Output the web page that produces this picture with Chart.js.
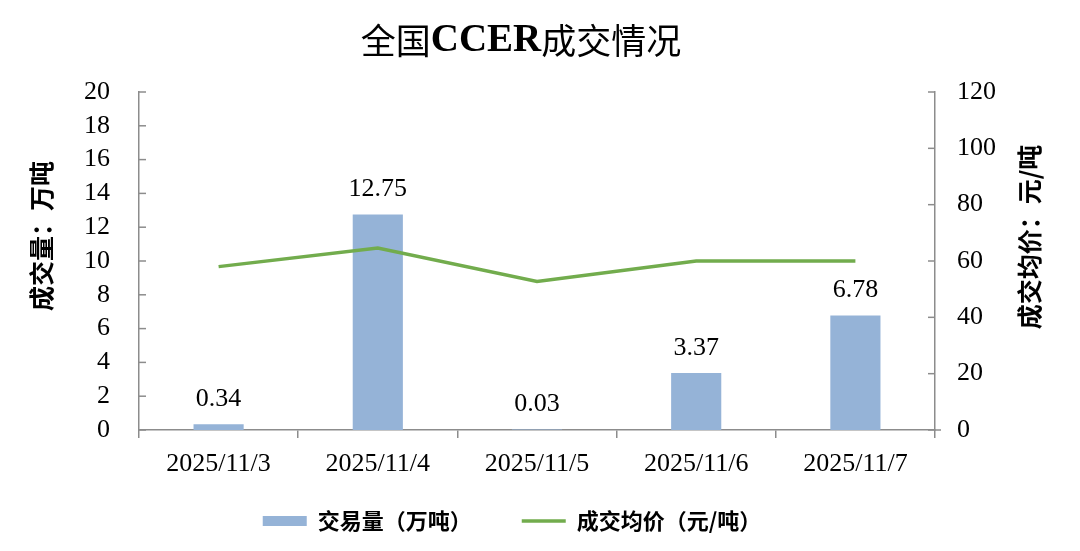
<!DOCTYPE html>
<html>
<head>
<meta charset="utf-8">
<script src="https://cdn.jsdelivr.net/npm/chart.js@4.4.1/dist/chart.umd.min.js"></script>
<style>
  html, body { margin: 0; padding: 0; background: #fff; }
  #wrap { width: 1080px; height: 551px; }
</style>
</head>
<body>
<div id="wrap"><canvas id="myChart"></canvas></div>
<script>
const dates = ['2025/11/3', '2025/11/4', '2025/11/5', '2025/11/6', '2025/11/7'];
const volume = [0.34, 12.75, 0.03, 3.37, 6.78];      // 万吨
const avgPrice = [58.0, 64.6, 52.7, 60.0, 60.0];     // 元/吨
const volTicks = [0, 20, 2];
const priceTicks = [0, 120, 20];

const serif = '"Liberation Serif", "Times New Roman", serif';
const cjk = '"Noto Sans CJK SC", "Noto Sans", sans-serif';
const axisGray = '#8c8c8c';

// title with mixed fonts, axis titles, inner tick marks, value labels
const decor = {
    id: 'decor',
    afterLayout(chart) {
        // legend sits a bit left of centre and close under the axis labels
        const lg = chart.legend;
        lg.left -= 28;
        lg.right -= 28;
        const h = lg.bottom - lg.top;
        lg.top = 460;
        lg.bottom = 460 + h;
    },
    afterDraw(chart) {
        const c = chart.ctx;
        const area = chart.chartArea;
        c.save();

        // title
        const runs = [
            ['全国', 'normal 35px ' + cjk],
            ['CCER', 'bold 39px ' + serif],
            ['成交情况', 'normal 35px ' + cjk]
        ];
        let total = 0;
        runs.forEach(r => { c.font = r[1]; total += c.measureText(r[0]).width; });
        let x = 521 - total / 2;
        c.fillStyle = '#000';
        c.textBaseline = 'middle';
        c.textAlign = 'left';
        runs.forEach(r => {
            c.font = r[1];
            c.fillText(r[0], x, 41);
            x += c.measureText(r[0]).width;
        });

        // axis titles
        c.font = 'bold 25px ' + cjk;
        c.textAlign = 'center';
        c.save();
        c.translate(41, 236);
        c.rotate(-Math.PI / 2);
        c.fillText('成交量：万吨', 0, 0);
        c.restore();
        c.save();
        c.translate(1029, 237);
        c.rotate(-Math.PI / 2);
        c.fillText('成交均价：元/吨', 0, 0);
        c.restore();

        // tick marks drawn inside the plot
        c.strokeStyle = axisGray;
        c.lineWidth = 1.5;
        const y = chart.scales.y, y1 = chart.scales.y1;
        y.ticks.forEach((t, i) => {
            const py = y.getPixelForTick(i);
            c.beginPath(); c.moveTo(area.left, py); c.lineTo(area.left + 7, py); c.stroke();
        });
        y1.ticks.forEach((t, i) => {
            const py = y1.getPixelForTick(i);
            c.beginPath(); c.moveTo(area.right - 7, py); c.lineTo(area.right + (i === 0 ? 6 : 0), py); c.stroke();
        });

        // bar value labels
        c.fillStyle = '#000';
        c.font = '26px ' + serif;
        c.textAlign = 'center';
        const meta = chart.getDatasetMeta(0);
        meta.data.forEach((bar, i) => {
            c.fillText(volume[i].toFixed(2), bar.x, bar.y - 25);
        });
        c.restore();
    }
};

new Chart(document.getElementById('myChart'), {
    type: 'bar',
    data: {
        labels: dates,
        datasets: [{
            label: '交易量（万吨）',
            data: volume,
            yAxisID: 'y',
            backgroundColor: '#95b3d7',
            borderWidth: 0,
            barPercentage: 0.315,
            categoryPercentage: 1,
            pointStyle: 'rect',
            order: 1
        }, {
            type: 'line',
            label: '成交均价（元/吨）',
            data: avgPrice,
            yAxisID: 'y1',
            borderColor: '#72ac4d',
            backgroundColor: '#72ac4d',
            borderWidth: 3.5,
            pointRadius: 0,
            pointStyle: 'line',
            tension: 0,
            order: 0
        }]
    },
    options: {
        responsive: true,
        maintainAspectRatio: false,
        animation: false,
        layout: { padding: { top: 92, left: 0, right: 0, bottom: -17 } },
        plugins: {
            title: { display: false },
            tooltip: { enabled: false },
            legend: {
                position: 'bottom',
                labels: {
                    usePointStyle: true,
                    pointStyleWidth: 44,
                    boxWidth: 44,
                    boxHeight: 10,
                    padding: 50,
                    color: '#000',
                    font: { family: cjk, size: 22, weight: 'bold' },
                    sort: (a, b) => a.datasetIndex - b.datasetIndex
                }
            }
        },
        scales: {
            x: {
                offset: true,
                grid: { offset: true, drawOnChartArea: false, drawTicks: true, tickLength: 8, color: axisGray, lineWidth: 1.5 },
                border: { display: true, color: axisGray, width: 1.5 },
                ticks: { color: '#000', padding: 11, font: { family: serif, size: 26 }, maxRotation: 0, autoSkip: false },
                afterFit: s => { s.height = 56; }
            },
            y: {
                position: 'left',
                min: volTicks[0], max: volTicks[1],
                grid: { display: false, drawTicks: false },
                border: { display: true, color: axisGray, width: 1.5 },
                ticks: { stepSize: volTicks[2], autoSkip: false, color: '#000', padding: 29, font: { family: serif, size: 26 } },
                afterFit: s => { s.width = 139; }
            },
            y1: {
                position: 'right',
                min: priceTicks[0], max: priceTicks[1],
                grid: { display: false, drawTicks: false },
                border: { display: true, color: axisGray, width: 1.5 },
                ticks: { stepSize: priceTicks[2], autoSkip: false, color: '#000', padding: 22, font: { family: serif, size: 26 } },
                afterFit: s => { s.width = 145; }
            }
        }
    },
    plugins: [decor]
});
</script>
</body>
</html>
